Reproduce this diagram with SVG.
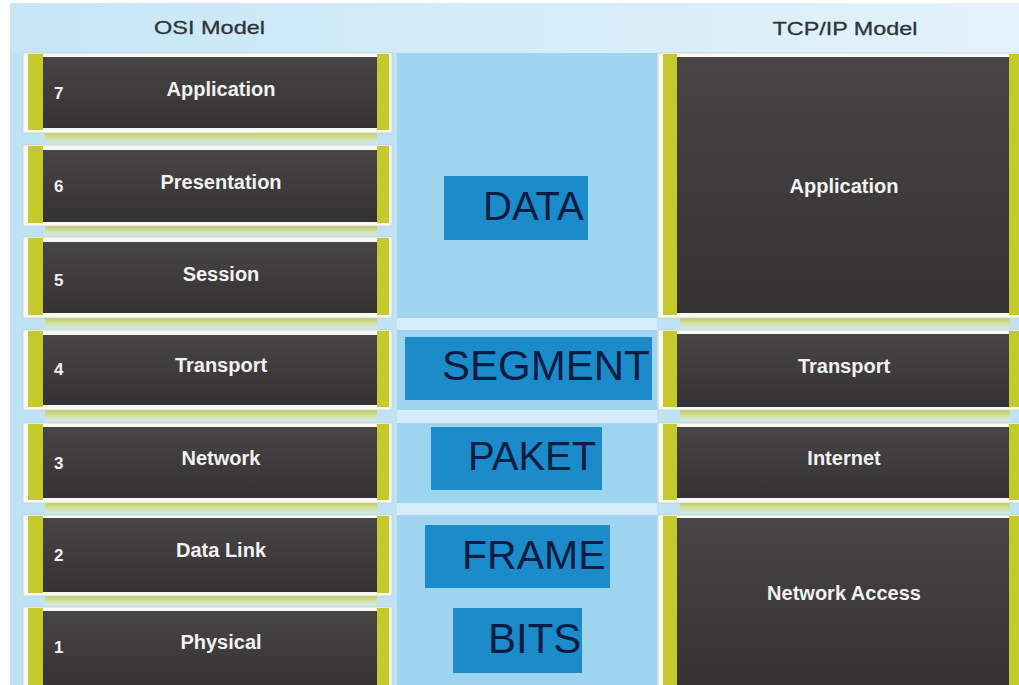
<svg xmlns="http://www.w3.org/2000/svg" width="1019" height="685" viewBox="0 0 1019 685">
<defs>
<linearGradient id="gDark" x1="0" y1="0" x2="0" y2="1">
<stop offset="0" stop-color="#484546"/>
<stop offset="1" stop-color="#353233"/>
</linearGradient>
<linearGradient id="gRefl" x1="0" y1="0" x2="0" y2="1">
<stop offset="0" stop-color="#c3ca3a" stop-opacity="0.9"/>
<stop offset="0.6" stop-color="#dfe59a" stop-opacity="0.6"/>
<stop offset="1" stop-color="#eef5d8" stop-opacity="0.2"/>
</linearGradient>
<linearGradient id="gHead" x1="0" y1="0" x2="1" y2="0">
<stop offset="0" stop-color="#c6e6f6"/>
<stop offset="1" stop-color="#e4f2fb"/>
</linearGradient>
<style>
.wbox{fill:#f7f9f4;stroke:#c9cccc;stroke-width:0.8}
.ylw{fill:#c4c92c}
.dark{fill:url(#gDark)}
.refl{fill:url(#gRefl)}
.lbl{font-family:"Liberation Sans",Arial,sans-serif;font-weight:bold;font-size:20px;fill:#f2f2f2;text-anchor:middle}
.num{font-family:"Liberation Sans",Arial,sans-serif;font-weight:bold;font-size:17px;fill:#f2f2f2}
.head{font-family:"Liberation Sans",Arial,sans-serif;font-size:18px;fill:#2f343a;stroke:#2f343a;stroke-width:0.3;text-anchor:middle}
.mid{fill:#9fd4ee}
.sep{fill:#d6edf9}
.pdu{fill:#1b8bc9}
.pdut{font-family:"Liberation Sans",Arial,sans-serif;fill:#0b1c44}
</style>
</defs>
<rect x="0" y="0" width="1019" height="685" fill="#ffffff"/>
<rect x="10" y="3" width="1009" height="682" fill="#bfe3f5"/>
<rect x="10" y="3" width="1009" height="50" fill="url(#gHead)"/>

<g id="headers">
<text class="head" x="209.5" y="34" textLength="111" lengthAdjust="spacingAndGlyphs">OSI Model</text>
<text class="head" x="845" y="35" textLength="145" lengthAdjust="spacingAndGlyphs">TCP/IP Model</text>
</g>

<g id="middle-column">
<rect class="mid" x="397" y="53" width="260" height="265"/>
<rect class="sep" x="397" y="318" width="260" height="12"/>
<rect class="mid" x="397" y="330" width="260" height="80"/>
<rect class="sep" x="397" y="410" width="260" height="13"/>
<rect class="mid" x="397" y="423" width="260" height="80"/>
<rect class="sep" x="397" y="503" width="260" height="12"/>
<rect class="mid" x="397" y="515" width="260" height="170"/>
</g>

<g id="reflections">
<rect class="refl" x="45" y="133" width="332" height="12"/>
<rect class="refl" x="45" y="226" width="332" height="11"/>
<rect class="refl" x="45" y="318" width="332" height="12"/>
<rect class="refl" x="45" y="410" width="332" height="13"/>
<rect class="refl" x="45" y="503" width="332" height="12"/>
<rect class="refl" x="45" y="596" width="332" height="11"/>
<rect class="refl" x="680" y="318" width="330" height="12"/>
<rect class="refl" x="680" y="410" width="330" height="13"/>
<rect class="refl" x="680" y="503" width="330" height="12"/>
</g>

<g id="osi-7">
<rect class="wbox" x="23" y="53" width="369" height="80"/>
<rect class="ylw" x="28" y="54" width="15" height="76"/>
<rect class="ylw" x="377" y="54" width="12" height="76"/>
<rect class="dark" x="43" y="57" width="334" height="71"/>
<text class="num" x="54" y="99">7</text>
<text class="lbl" x="221" y="96">Application</text>
</g>
<g id="osi-6">
<rect class="wbox" x="23" y="145" width="369" height="81"/>
<rect class="ylw" x="28" y="146" width="15" height="77"/>
<rect class="ylw" x="377" y="146" width="12" height="77"/>
<rect class="dark" x="43" y="150" width="334" height="72"/>
<text class="num" x="54" y="192">6</text>
<text class="lbl" x="221" y="189">Presentation</text>
</g>
<g id="osi-5">
<rect class="wbox" x="23" y="237" width="369" height="81"/>
<rect class="ylw" x="28" y="238" width="15" height="77"/>
<rect class="ylw" x="377" y="238" width="12" height="77"/>
<rect class="dark" x="43" y="242" width="334" height="71"/>
<text class="num" x="54" y="286">5</text>
<text class="lbl" x="221" y="281">Session</text>
</g>
<g id="osi-4">
<rect class="wbox" x="23" y="330" width="369" height="80"/>
<rect class="ylw" x="28" y="331" width="15" height="76"/>
<rect class="ylw" x="377" y="331" width="12" height="76"/>
<rect class="dark" x="43" y="335" width="334" height="70"/>
<text class="num" x="54" y="375">4</text>
<text class="lbl" x="221" y="372">Transport</text>
</g>
<g id="osi-3">
<rect class="wbox" x="23" y="423" width="369" height="80"/>
<rect class="ylw" x="28" y="424" width="15" height="76"/>
<rect class="ylw" x="377" y="424" width="12" height="76"/>
<rect class="dark" x="43" y="427" width="334" height="71"/>
<text class="num" x="54" y="469">3</text>
<text class="lbl" x="221" y="465">Network</text>
</g>
<g id="osi-2">
<rect class="wbox" x="23" y="515" width="369" height="81"/>
<rect class="ylw" x="28" y="516" width="15" height="77"/>
<rect class="ylw" x="377" y="516" width="12" height="77"/>
<rect class="dark" x="43" y="518" width="334" height="74"/>
<text class="num" x="54" y="561">2</text>
<text class="lbl" x="221" y="557">Data Link</text>
</g>
<g id="osi-1">
<rect class="wbox" x="23" y="607" width="369" height="82"/>
<rect class="ylw" x="28" y="608" width="15" height="80"/>
<rect class="ylw" x="377" y="608" width="12" height="80"/>
<rect class="dark" x="43" y="611" width="334" height="76"/>
<text class="num" x="54" y="653">1</text>
<text class="lbl" x="221" y="649">Physical</text>
</g>

<g id="tcp-application">
<rect class="wbox" x="658" y="53" width="365" height="265"/>
<rect class="ylw" x="663" y="54" width="14" height="261"/>
<rect class="ylw" x="1009" y="54" width="12" height="261"/>
<rect class="dark" x="677" y="57" width="332" height="256"/>
<text class="lbl" x="844" y="193">Application</text>
</g>
<g id="tcp-transport">
<rect class="wbox" x="658" y="330" width="365" height="80"/>
<rect class="ylw" x="663" y="331" width="14" height="76"/>
<rect class="ylw" x="1009" y="331" width="12" height="76"/>
<rect class="dark" x="677" y="334" width="332" height="73"/>
<text class="lbl" x="844" y="373">Transport</text>
</g>
<g id="tcp-internet">
<rect class="wbox" x="658" y="423" width="365" height="80"/>
<rect class="ylw" x="663" y="424" width="14" height="76"/>
<rect class="ylw" x="1009" y="424" width="12" height="76"/>
<rect class="dark" x="677" y="427" width="332" height="71"/>
<text class="lbl" x="844" y="465">Internet</text>
</g>
<g id="tcp-network-access">
<rect class="wbox" x="658" y="515" width="365" height="174"/>
<rect class="ylw" x="663" y="516" width="14" height="172"/>
<rect class="ylw" x="1009" y="516" width="12" height="172"/>
<rect class="dark" x="677" y="518" width="332" height="169"/>
<text class="lbl" x="844" y="600">Network Access</text>
</g>

<g id="pdu-data">
<rect class="pdu" x="444" y="176" width="144" height="64"/>
<text class="pdut" x="483" y="220" font-size="40">DATA</text>
</g>
<g id="pdu-segment">
<rect class="pdu" x="405" y="337" width="247" height="63"/>
<text class="pdut" x="442" y="380" font-size="42">SEGMENT</text>
</g>
<g id="pdu-paket">
<rect class="pdu" x="431" y="427" width="171" height="63"/>
<text class="pdut" x="468" y="470" font-size="40">PAKET</text>
</g>
<g id="pdu-frame">
<rect class="pdu" x="425" y="525" width="185" height="63"/>
<text class="pdut" x="462" y="569" font-size="41">FRAME</text>
</g>
<g id="pdu-bits">
<rect class="pdu" x="453" y="608" width="129" height="65"/>
<text class="pdut" x="488" y="653" font-size="42">BITS</text>
</g>

<g id="connectors"/>
</svg>
